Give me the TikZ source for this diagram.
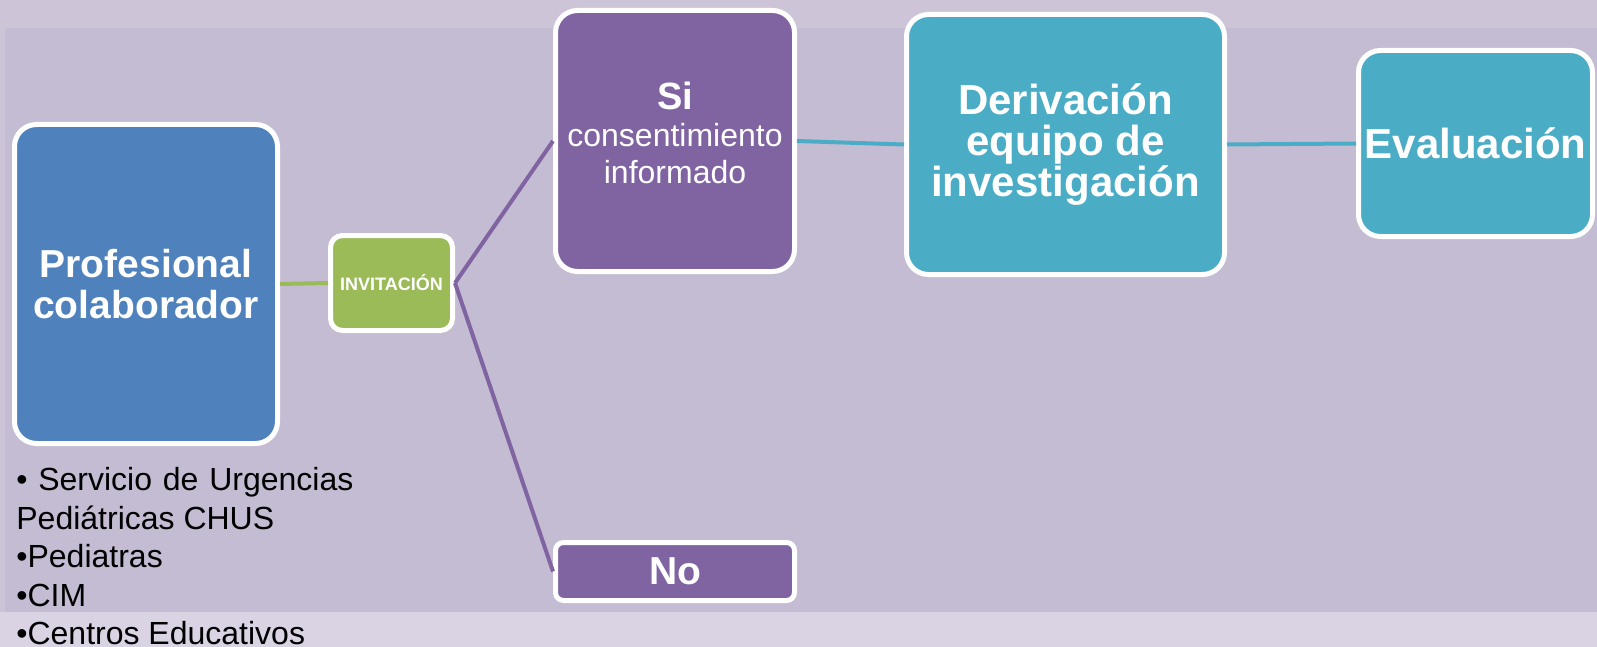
\documentclass[tikz,border=0pt]{standalone}
\usepackage{fontspec}
\setmainfont{Liberation Sans}
\definecolor{fondo}{RGB}{196,188,210}
\definecolor{fondoclaro}{RGB}{205,197,215}
\definecolor{fondobajo}{RGB}{217,211,227}
\definecolor{azul}{RGB}{79,129,189}
\definecolor{verde}{RGB}{155,187,89}
\definecolor{morado}{RGB}{128,100,162}
\definecolor{turquesa}{RGB}{75,172,198}
\tikzset{
  caja/.style={draw=white, line width=2.5pt, rounded corners=11pt, text=white, align=center, inner sep=0pt},
  enlace/.style={line width=2pt},
}
\lineskiplimit=-30pt

\begin{document}
\begin{tikzpicture}[x=0.5pt,y=-0.5pt]
	%%%%% FONDO %%%%%
	\useasboundingbox (0,0) rectangle (1597,647);
	\fill[fondo] (0,0) rectangle (1597,647);
	\fill[fondoclaro] (0,0) rectangle (1597,28);
	\fill[fondobajo] (0,612) rectangle (1597,647);
	\fill[fondoclaro] (0,28) rectangle (5,612);
	
	%%%%% CAJAS %%%%%
	\node[caja, fill=azul, minimum width=131.5pt, minimum height=159.5pt,
	      font=\bfseries\fontsize{19.5}{20.5}\selectfont] (prof) at (146,284) {Profesional\\colaborador};
	\node[caja, fill=verde, rounded corners=6pt, minimum width=61pt, minimum height=47.5pt,
	      font=\bfseries\fontsize{9}{11}\selectfont] (invit) at (391.5,283) {INVITACIÓN};
	
	\node[caja, fill=morado, minimum width=119.5pt, minimum height=130.5pt, text depth=8pt,
	      font=\fontsize{16}{18.5}\selectfont] (si) at (675,141) {{\bfseries\fontsize{19}{19.5}\selectfont Si}\\consentimiento\\informado};
	\node[caja, fill=morado, rounded corners=4pt, minimum width=119.5pt, minimum height=29pt,
	      font=\bfseries\fontsize{19.5}{20}\selectfont] (no) at (675,571.5) {No};
	
	\node[caja, fill=turquesa, minimum width=159pt, minimum height=130pt,
	      font=\bfseries\fontsize{21}{20.5}\selectfont] (deriv) at (1065.5,144.5) {Derivación\\equipo de\\investigación};
	\node[caja, fill=turquesa, minimum width=117pt, minimum height=93pt,
	      font=\bfseries\fontsize{21}{21}\selectfont] (eval) at (1475.5,143.5) {Evaluación};
	
	%%%%% ENLACES %%%%%
	\draw[enlace, verde] (prof.east) -- (invit.west);
	\draw[enlace, morado] (invit.east) -- (si.west);
	\draw[enlace, morado] (invit.east) -- (no.west);
	\draw[enlace, turquesa] (si.east) -- (deriv.west);
	\draw[enlace, turquesa] (deriv.east) -- (eval.west);
	
	%%%%% LISTA %%%%%
	\node[anchor=north west, inner sep=0pt, align=left, text=black,
	      font=\fontsize{16}{19.25}\selectfont] (lista) at (16,467)
	      {\makebox[168.5pt][s]{\textbullet\ Servicio de Urgencias}\\Pediátricas CHUS\\\textbullet Pediatras\\\textbullet CIM\\\textbullet Centros Educativos};
\end{tikzpicture}
\end{document}
